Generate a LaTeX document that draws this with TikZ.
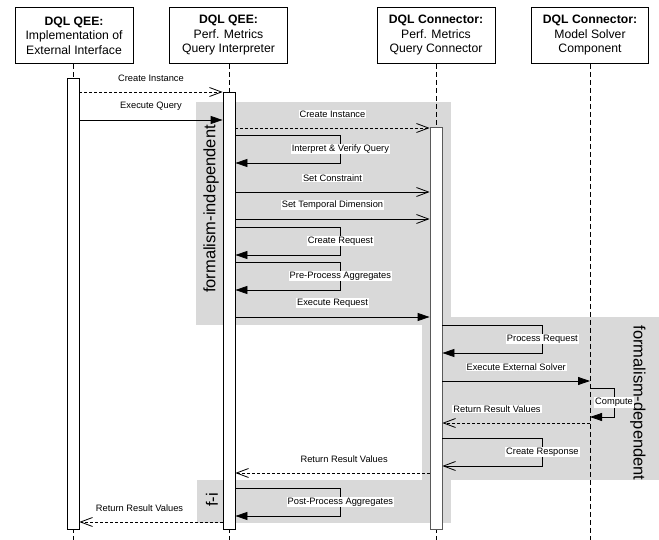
\documentclass[tikz,border=0pt]{standalone}
\usepackage{fontspec}
\setmainfont{Liberation Sans}
\usepackage{tikz}
\usetikzlibrary{arrows.meta,positioning}

\newcommand{\hdfont}{\fontsize{12.2}{14.5}\selectfont}
\newcommand{\msgfont}{\fontsize{9.3}{11}\selectfont}
\newcommand{\regfont}{\fontsize{16.5}{18}\selectfont}

\tikzset{
	head/.style={draw, line width=0.8pt, minimum width=118pt, minimum height=56pt, align=center, font=\hdfont, inner sep=2pt},
	act/.style={draw, fill=white, line width=0.8pt, minimum width=12pt, inner sep=0pt},
	life/.style={line width=0.8pt, dash pattern=on 5pt off 3pt},
	call/.style={line width=0.8pt, -{Triangle[length=12pt,width=8pt]}},
	async/.style={line width=0.8pt, -{Straight Barb[length=12pt,width=9pt]}},
	reply/.style={async, dash pattern=on 3pt off 2pt},
	msg/.style={fill=white, inner sep=1pt, font=\msgfont},
	lab/.style={msg, yshift=14pt},
	region/.style={fill=black!15, draw=none},
	reglabel/.style={font=\regfont, inner sep=0pt}
}

\begin{document}
\begin{tikzpicture}[x=1pt, y=-1pt]
		\useasboundingbox (0,0) rectangle (659,540);
		
		% grey regions
		\fill[region] (196,102) rectangle (451,325);
		\fill[region] (422,317) rectangle (659,480);
		\fill[region] (197,480) rectangle (451,523);
		\node[reglabel, rotate=90] (indep) at (211,209) {formalism-independent};
		\node[reglabel, rotate=-90] (dep) at (638,403) {formalism-dependent};
		\node[reglabel, rotate=90] (fi) at (212,500) {f-i};
		
		% participants
		\node[head] (ext) at (74,35.5) {\textbf{DQL QEE:}\\Implementation of\\External Interface};
		\node[head] (interp) at (228.5,35.5) {\textbf{DQL QEE:}\\Perf. Metrics\\Query Interpreter};
		\node[head] (conn) at (436,35.5) {\textbf{DQL Connector:}\\Perf. Metrics\\Query Connector};
		\node[head, minimum width=117pt] (solver) at (590,35.5) {\textbf{DQL Connector:}\\Model Solver\\Component};
		
		% lifelines
		\draw[life] (ext.south -| 73,0) -- (73,540);
		\draw[life] (interp.south -| 229,0) -- (229,540);
		\draw[life] (conn.south) -- (conn.south |- 0,540);
		\draw[life] (solver.south) -- (solver.south |- 0,540);
		
		% activations
		\node[act, minimum height=451pt] (a1) at (73,303.5) {};
		\node[act, minimum height=437pt] (a2) at (229,310.5) {};
		\node[act, draw=black!65, minimum height=402pt] (a3) at (436,328) {};
		
		% messages
		\draw[reply] (a1.east |- 0,92) -- node[lab] {Create Instance} (a2.west |- 0,92);
		\draw[call] (a1.east |- 0,120) -- node[lab] {Execute Query} (a2.west |- 0,120);
		\draw[reply] (a2.east |- 0,128) -- node[lab] {Create Instance} (a3.west |- 0,128);
		\draw[call] (a2.east |- 0,135) -- ++(105,0) -- node[msg] {Interpret \& Verify Query} ++(0,28) -- (a2.east |- 0,163);
		\draw[async] (a2.east |- 0,192) -- node[lab] {Set Constraint} (a3.west |- 0,192);
		\draw[async] (a2.east |- 0,219) -- node[lab] {Set Temporal Dimension} (a3.west |- 0,219);
		\draw[call] (a2.east |- 0,227) -- ++(105,0) -- node[msg] {Create Request} ++(0,28) -- (a2.east |- 0,255);
		\draw[call] (a2.east |- 0,262) -- ++(105,0) -- node[msg] {Pre-Process Aggregates} ++(0,28) -- (a2.east |- 0,290);
		\draw[call] (a2.east |- 0,317) -- node[lab] {Execute Request} (a3.west |- 0,317);
		
		\draw[call] (a3.east |- 0,325) -- ++(100,0) -- node[msg] {Process Request} ++(0,28) -- (a3.east |- 0,353);
		\draw[call] (a3.east |- 0,381) -- node[lab] {Execute External Solver} (solver.south |- 0,381);
		\draw[call] (solver.south |- 0,388) -- ++(24,0) -- node[msg] {Compute} ++(0,29) -- (solver.south |- 0,417);
		\draw[reply] (solver.south |- 0,423) -- node[lab, pos=0.63] {Return Result Values} (a3.east |- 0,423);
		\draw[async] (a3.east |- 0,438) -- ++(100,0) -- node[msg] {Create Response} ++(0,28) -- (a3.east |- 0,466);
		\draw[reply] (a3.west |- 0,473) -- node[lab, pos=0.44] {Return Result Values} (a2.east |- 0,473);
		
		\draw[call] (a2.east |- 0,488) -- ++(105,0) -- node[msg] {Post-Process Aggregates} ++(0,28) -- (a2.east |- 0,516);
		\draw[reply] (a2.west |- 0,522) -- node[lab, pos=0.58] {Return Result Values} (a1.east |- 0,522);
	\end{tikzpicture}
\end{document}
